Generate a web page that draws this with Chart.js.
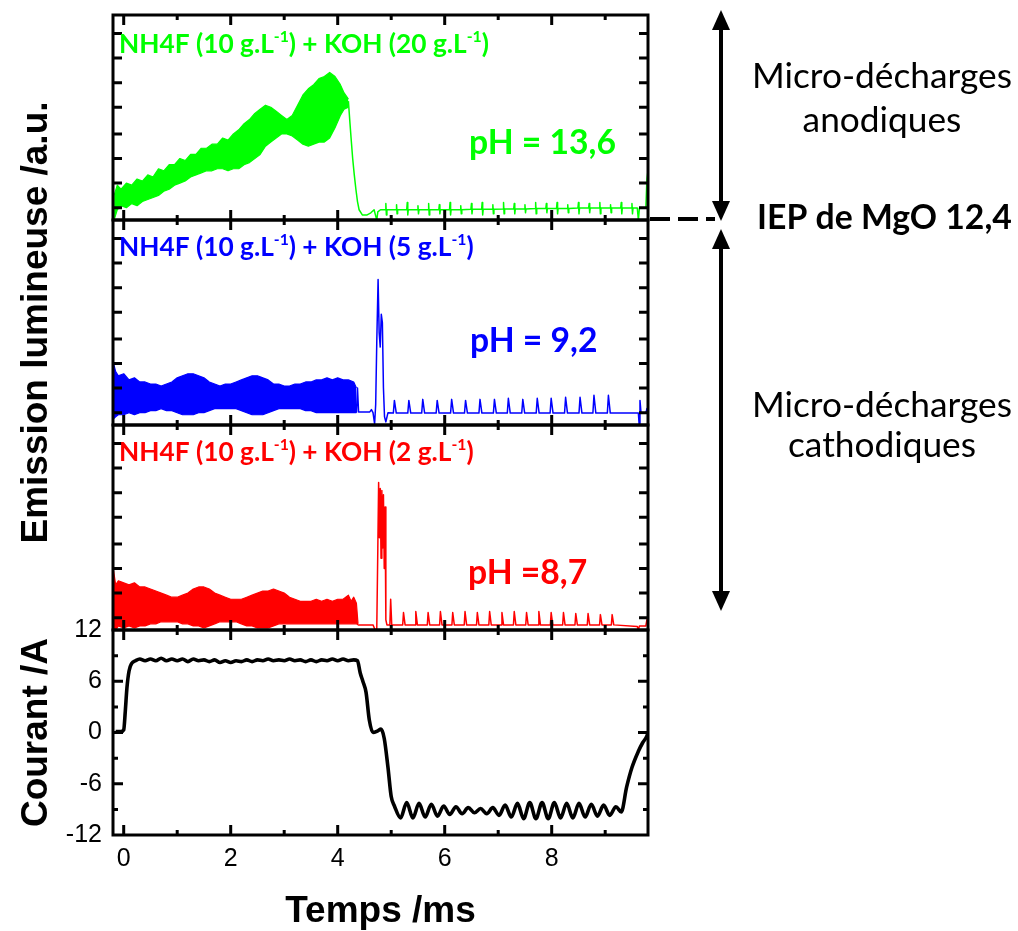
<!DOCTYPE html>
<html>
<head>
<meta charset="utf-8">
<script src="https://cdn.jsdelivr.net/npm/chart.js@4.4.1/dist/chart.umd.min.js"></script>
<style>
  html, body { margin: 0; padding: 0; background: #fff; }
  #plasma_chart { display: block; }
</style>
</head>
<body>
<canvas id="plasma_chart" width="1018" height="931"></canvas>
<script>
// axis ticks
const xTickValues = [0, 2, 4, 6, 8];
const xMajorTicks = [0, 2, 4, 6, 8];
const xMinorTicks = [1, 3, 5, 7, 9];
const currentTickValues = [-12, -6, 0, 6, 12];
const currentMajorTicks = [-6, 0, 6];
const currentMinorTicks = [-9, -3, 3, 9];
const emissionTicks = [6, 18, 30, 42, 55, 67, 79, 91];

// emission, pH 13.6 (green) : dense band as upper / lower envelope, then the tail
const greenBandT = [-0.18, -0.12, -0.05,
  0.05, 0.15, 0.25, 0.35, 0.45, 0.55, 0.65, 0.75, 0.85, 0.95,
  1.05, 1.15, 1.25, 1.35, 1.45, 1.55, 1.65, 1.75, 1.85, 1.95,
  2.05, 2.15, 2.25, 2.35, 2.45, 2.55, 2.65, 2.75, 2.85, 2.95,
  3.05, 3.15, 3.25, 3.35, 3.45, 3.55, 3.65, 3.75, 3.85, 3.95,
  4.05, 4.12, 4.2];
const greenBandHi = [12, 17, 15,
  18, 17, 20, 19, 22, 21, 25, 24, 27, 27,
  30, 29, 32, 32, 35, 35, 37, 37, 40, 39,
  42, 44, 47, 49, 52, 54, 56, 55, 53, 51,
  49, 51, 56, 61, 64, 66, 69, 70, 72, 70,
  66, 62, 59];
const greenBandLo = [0, 5, 7,
  6, 8, 7, 9, 10, 11, 12, 14, 15, 17,
  18, 19, 21, 22, 23, 24, 24, 25, 25, 24,
  25, 25, 27, 28, 30, 32, 36, 38, 40, 42,
  42, 41, 39, 37, 36, 37, 38, 38, 40, 45,
  51, 54, 55];
const greenTailT = [4.2, 4.23, 4.25, 4.28, 4.31, 4.34, 4.37, 4.4, 4.46, 4.55, 4.62, 4.68, 4.71, 4.73, 4.75, 4.8,
  4.89, 4.9, 4.91, 4.92,
  5.09, 5.1, 5.11, 5.12,
  5.29, 5.3, 5.31, 5.32,
  5.49, 5.5, 5.51, 5.52,
  5.69, 5.7, 5.71, 5.72,
  5.89, 5.9, 5.91, 5.92,
  6.09, 6.1, 6.11, 6.12,
  6.29, 6.3, 6.31, 6.32,
  6.49, 6.5, 6.51, 6.52,
  6.69, 6.7, 6.71, 6.72,
  6.89, 6.9, 6.91, 6.92,
  7.09, 7.1, 7.11, 7.12,
  7.29, 7.3, 7.31, 7.32,
  7.49, 7.5, 7.51, 7.52,
  7.69, 7.7, 7.71, 7.72,
  7.89, 7.9, 7.91, 7.92,
  8.09, 8.1, 8.11, 8.12,
  8.29, 8.3, 8.31, 8.32,
  8.49, 8.5, 8.51, 8.52,
  8.69, 8.7, 8.71, 8.72,
  8.89, 8.9, 8.91, 8.92,
  9.09, 9.1, 9.11, 9.12,
  9.29, 9.3, 9.31, 9.32,
  9.49, 9.5, 9.51, 9.52,
  9.6, 9.62, 9.64, 9.7, 9.76, 9.78, 9.8];
const greenTailY = [58, 47, 40, 30, 22, 15, 9, 5, 2.5, 2.5, 3.5, 5, 2, 0, 4, 5,
  5, 8, 2.5, 5,
  5, 7.5, 3, 5,
  5, 8.5, 2.5, 5,
  5, 7, 3, 5,
  5, 8, 2.5, 5,
  5, 7.5, 3, 5,
  5, 8.5, 2.5, 5,
  5, 7, 3, 5,
  5.2, 8, 3, 5.2,
  5.2, 8.5, 2.5, 5.2,
  5.2, 7.5, 3, 5.2,
  5.4, 8.5, 3, 5.4,
  5.4, 8, 3, 5.4,
  5.4, 7.5, 3.5, 5.4,
  5.6, 8.5, 3, 5.6,
  5.6, 8, 3.5, 5.6,
  5.6, 8.5, 3, 5.6,
  5.6, 7.5, 3.5, 5.6,
  5.8, 8.5, 3, 5.8,
  5.8, 8, 3.5, 5.8,
  5.8, 8.5, 3, 5.8,
  5.8, 7.5, 3.5, 5.8,
  5.8, 8.5, 3, 5.8,
  5.8, 8, 3, 5.8,
  5.8, 0, 5.8, 5.8, 5.8, 20, 24];

// emission, pH 9.2 (blue)
const blueBandT = [-0.19, -0.15, -0.1,
  0, 0.1, 0.2, 0.3, 0.4, 0.5, 0.6, 0.7, 0.8, 0.9,
  1.0, 1.1, 1.2, 1.3, 1.4, 1.5, 1.6, 1.7, 1.8, 1.9,
  2.0, 2.1, 2.2, 2.3, 2.4, 2.5, 2.6, 2.7, 2.8, 2.9,
  3.0, 3.1, 3.2, 3.3, 3.4, 3.5, 3.6, 3.7, 3.8, 3.9,
  4.0, 4.1, 4.2, 4.3, 4.35];
const blueBandHi = [30, 26, 24,
  25, 22, 23, 21, 21, 20, 20, 19, 20, 21,
  23, 24, 25, 25, 24, 23, 21, 20, 19, 20,
  20, 21, 22, 23, 24, 24, 23, 22, 20, 20,
  19, 19, 20, 20, 21, 21, 22, 22, 23, 22,
  23, 22, 22, 21, 18];
const blueBandLo = [3, 4, 5,
  5, 6, 5, 6, 6, 7, 7, 8, 7, 7,
  6, 5, 5, 5, 6, 6, 7, 8, 8, 8,
  8, 8, 7, 6, 5, 5, 5, 6, 7, 8,
  8, 8, 8, 8, 7, 7, 6, 6, 6, 6,
  6, 6, 6, 6, 6];
const blueTailT = [4.35, 4.37, 4.39, 4.6, 4.63, 4.66, 4.69, 4.71, 4.73, 4.755, 4.775, 4.795, 4.815, 4.835, 4.855, 4.875, 4.9, 4.94,
  5.04, 5.06, 5.095,
  5.31, 5.33, 5.365,
  5.57, 5.59, 5.625,
  5.84, 5.86, 5.895,
  6.11, 6.13, 6.165,
  6.37, 6.39, 6.425,
  6.64, 6.66, 6.695,
  6.91, 6.93, 6.965,
  7.17, 7.19, 7.225,
  7.44, 7.46, 7.495,
  7.71, 7.73, 7.765,
  7.97, 7.99, 8.025,
  8.24, 8.26, 8.295,
  8.51, 8.53, 8.565,
  8.77, 8.79, 8.825,
  9.04, 9.06, 9.095,
  9.62, 9.635, 9.65, 9.67, 9.76, 9.78, 9.8];
const blueTailY = [6, 18, 6.4, 6.4, 7.5, 6, 0.5, 10, 40, 71, 45, 38, 54, 50, 18, 4, 1.5, 6,
  5.8, 12, 5.8,
  5.8, 12, 5.8,
  5.8, 12.5, 5.8,
  5.8, 12, 5.8,
  5.8, 12.5, 5.8,
  5.8, 12, 5.8,
  5.8, 12.5, 5.8,
  5.8, 12.5, 5.8,
  5.8, 13, 5.8,
  5.8, 12.5, 5.8,
  5.8, 13, 5.8,
  5.8, 13, 5.8,
  5.8, 13.5, 5.8,
  5.8, 13.5, 5.8,
  5.8, 14.5, 5.8,
  5.8, 14.5, 5.8,
  5.8, 0, 12, 5.8, 5.8, 8, 7];

// emission, pH 8.7 (red)
const redBandT = [-0.19, -0.15, -0.1,
  0, 0.1, 0.2, 0.3, 0.4, 0.5, 0.6, 0.7, 0.8, 0.9,
  1.0, 1.1, 1.2, 1.3, 1.4, 1.5, 1.6, 1.7, 1.8, 1.9,
  2.0, 2.1, 2.2, 2.3, 2.4, 2.5, 2.6, 2.7, 2.8, 2.9,
  3.0, 3.1, 3.2, 3.3, 3.4, 3.5, 3.6, 3.7, 3.8, 3.9,
  4.0, 4.1, 4.2, 4.25, 4.3, 4.35, 4.38];
const redBandHi = [29, 22, 24,
  23, 22, 23, 21, 21, 20, 19, 18, 17, 16,
  16, 17, 18, 20, 21, 21, 20, 18, 17, 16,
  15, 15, 15, 16, 17, 18, 19, 19, 20, 19,
  18, 16, 15, 14, 14, 14, 15, 14, 15, 14,
  15, 15, 17, 14, 16, 13, 3];
const redBandLo = [1, 0, 2,
  1, 2, 1, 2, 2, 3, 3, 4, 4, 4,
  4, 3, 3, 2, 2, 1, 2, 3, 4, 4,
  4, 4, 3, 2, 2, 1, 1, 1, 2, 3,
  3, 3, 3, 3, 3, 3, 3, 3, 3, 3,
  3, 3, 3, 3, 3, 3, 2.5];
const redTailT = [4.38, 4.66, 4.7, 4.73, 4.75, 4.765, 4.78, 4.795, 4.81, 4.825, 4.84, 4.855, 4.87, 4.885, 4.9, 4.92, 4.975, 4.99, 5.01,
  5.215, 5.23, 5.26,
  5.445, 5.46, 5.49,
  5.675, 5.69, 5.72,
  5.905, 5.92, 5.95,
  6.135, 6.15, 6.18,
  6.365, 6.38, 6.41,
  6.595, 6.61, 6.64,
  6.825, 6.84, 6.87,
  7.055, 7.07, 7.1,
  7.285, 7.3, 7.33,
  7.515, 7.53, 7.56,
  7.745, 7.76, 7.79,
  7.975, 7.99, 8.02,
  8.205, 8.22, 8.25,
  8.435, 8.45, 8.48,
  8.665, 8.68, 8.71,
  8.895, 8.91, 8.94,
  9.115, 9.13, 9.16,
  9.6, 9.62, 9.64, 9.76, 9.78, 9.8];
const redTailY = [2.5, 2.5, 0, 0, 40, 72, 45, 69, 35, 68, 40, 66, 30, 60, 5, 2.5, 2.5, 15, 2.5,
  2.5, 8.5, 2.5,
  2.5, 9, 2.5,
  2.5, 8.5, 2.5,
  2.5, 9, 2.5,
  2.5, 8.5, 2.5,
  2.5, 9, 2.5,
  2.5, 8.5, 2.5,
  2.5, 9, 2.5,
  2.5, 8.5, 2.5,
  2.5, 9, 2.5,
  2.5, 8.5, 2.5,
  2.5, 9, 2.5,
  2.5, 8.5, 2.5,
  2.5, 8.5, 2.5,
  2.5, 8, 2.5,
  2.5, 8, 2.5,
  2.5, 7.5, 2.5,
  2.5, 7.5, 2.5,
  1.7, 0, 2, 2, 5, 4];

// current (A)
const currentT = [-0.15, -0.05, 0.0, 0.03, 0.06, 0.1, 0.15, 0.22,
  0.3, 0.4, 0.5, 0.6, 0.7, 0.8, 0.9,
  1.0, 1.1, 1.2, 1.3, 1.4, 1.5, 1.6, 1.7, 1.8, 1.9,
  2.0, 2.1, 2.2, 2.3, 2.4, 2.5, 2.6, 2.7, 2.8, 2.9,
  3.0, 3.1, 3.2, 3.3, 3.4, 3.5, 3.6, 3.7, 3.8, 3.9,
  4.0, 4.1, 4.2, 4.3, 4.37,
  4.42, 4.47, 4.53, 4.59, 4.66, 4.75, 4.81, 4.87, 4.94, 5.0,
  5.06, 5.175, 5.29, 5.405, 5.52, 5.635, 5.75, 5.865, 5.98, 6.095,
  6.21, 6.325, 6.44, 6.555, 6.67, 6.785, 6.9, 7.015, 7.13, 7.245,
  7.36, 7.475, 7.59, 7.705, 7.82, 7.935, 8.05, 8.165, 8.28, 8.395,
  8.51, 8.625, 8.74, 8.855, 8.97, 9.085, 9.2, 9.3,
  9.4, 9.5, 9.62, 9.7, 9.78, 9.8];
const currentA = [0.1, 0.1, 0.3, 2.5, 5.2, 7.2, 8.1, 8.4,
  8.6, 8.4, 8.6, 8.4, 8.7, 8.4, 8.6,
  8.4, 8.6, 8.3, 8.6, 8.4, 8.5, 8.3, 8.5, 8.2, 8.4,
  8.2, 8.4, 8.3, 8.5, 8.3, 8.5, 8.4, 8.6, 8.4, 8.5,
  8.4, 8.6, 8.4, 8.5, 8.3, 8.5, 8.3, 8.5, 8.4, 8.6,
  8.4, 8.6, 8.4, 8.5, 8.4,
  7.0, 6.0, 4.7, 1.5, 0.0, 0.2, 0.4, -0.7, -4.1, -7.5,
  -8.6, -10.0, -8.2, -10.0, -8.3, -9.9, -8.4, -9.8, -8.6, -9.6,
  -8.7, -9.5, -8.8, -9.4, -8.9, -9.5, -8.8, -9.7, -8.5, -9.9,
  -8.3, -10.1, -8.2, -10.1, -8.2, -10.1, -8.2, -10.0, -8.3, -10.0,
  -8.3, -9.9, -8.4, -9.8, -8.5, -9.7, -8.7, -9.3,
  -6.4, -4.1, -2.2, -1.2, -0.4, 0.0];

const GREEN = '#00ff00';
const BLUE = '#0000ff';
const RED = '#ff0000';
const TEXT_FONT = "Lato, 'Open Sans', sans-serif";
const AXIS_FONT = "'Liberation Sans', Arial, sans-serif";

const greenLabel = [{ text: 'NH4F (10 g.L' }, { text: '-1', sup: true }, { text: ') + KOH (20 g.L' }, { text: '-1', sup: true }, { text: ')' }];
const blueLabel = [{ text: 'NH4F (10 g.L' }, { text: '-1', sup: true }, { text: ') + KOH (5 g.L' }, { text: '-1', sup: true }, { text: ')' }];
const redLabel = [{ text: 'NH4F (10 g.L' }, { text: '-1', sup: true }, { text: ') + KOH (2 g.L' }, { text: '-1', sup: true }, { text: ')' }];

const toPoints = (xs, ys) => xs.map((x, i) => ({ x, y: ys[i] }));

const trace = (xs, ys, axis, color, extra = {}) => Object.assign({
  data: toPoints(xs, ys),
  yAxisID: axis,
  borderColor: color,
  backgroundColor: color,
  borderWidth: 1.5,
  pointRadius: 0,
  tension: 0,
  fill: false,
  borderJoinStyle: 'round',
}, extra);

// stacked panels: no extra chart padding from the tick labels
const fixLeftAxis = (scale) => {
  scale.width = 113;
  scale.paddingTop = 0;
  scale.paddingBottom = 0;
};

const emissionAxis = (title) => ({
  type: 'linear',
  position: 'left',
  stack: 'panels',
  stackWeight: 1,
  min: 0,
  max: 100,
  grid: { display: false, drawTicks: false },
  border: { display: false },
  ticks: { display: false },
  afterBuildTicks: (scale) => { scale.ticks = emissionTicks.map((v) => ({ value: v })); },
  afterFit: fixLeftAxis,
  title: title ? {
    display: true,
    text: title,
    color: '#000',
    font: { family: AXIS_FONT, size: 37, weight: 'bold', lineHeight: 1 },
    padding: { top: 18, bottom: 0 },
  } : { display: false },
});

function richWidth(ctx, parts, size, weight) {
  return parts.reduce((w, p) => {
    ctx.font = `${weight} ${p.sup ? size * 0.6 : size}px ${TEXT_FONT}`;
    return w + ctx.measureText(p.text).width;
  }, 0);
}

function drawRich(ctx, parts, x, y, size, weight, color) {
  ctx.fillStyle = color;
  ctx.textAlign = 'left';
  ctx.textBaseline = 'middle';
  let cx = x;
  parts.forEach((p) => {
    ctx.font = `${weight} ${p.sup ? size * 0.6 : size}px ${TEXT_FONT}`;
    ctx.fillText(p.text, cx, p.sup ? y - size * 0.3 : y);
    cx += ctx.measureText(p.text).width;
  });
}

const fitSize = (ctx, parts, width, weight) => 40 * width / richWidth(ctx, parts, 40, weight);

function arrow(ctx, x, y1, y2) {
  const head = 20, half = 9;
  ctx.beginPath();
  ctx.moveTo(x, y1 + head - 2);
  ctx.lineTo(x, y2 - head + 2);
  ctx.stroke();
  ctx.beginPath();
  ctx.moveTo(x, y1); ctx.lineTo(x - half, y1 + head); ctx.lineTo(x + half, y1 + head);
  ctx.closePath(); ctx.fill();
  ctx.beginPath();
  ctx.moveTo(x, y2); ctx.lineTo(x - half, y2 - head); ctx.lineTo(x + half, y2 - head);
  ctx.closePath(); ctx.fill();
}

const figureDecor = {
  id: 'figureDecor',
  afterDraw(chart) {
    const { ctx, chartArea: area, scales } = chart;
    const xs = scales.x;
    ctx.save();
    ctx.strokeStyle = '#000';
    ctx.fillStyle = '#000';

    // frames with inward ticks on all four sides of every panel
    ['yG', 'yB', 'yR', 'yI'].forEach((id) => {
      const s = scales[id];
      const yMarks = id === 'yI'
        ? currentMajorTicks.map((v) => [v, 10]).concat(currentMinorTicks.map((v) => [v, 5]))
        : emissionTicks.map((v) => [v, 9]);
      const xMarks = xMajorTicks.map((v) => [v, 10]).concat(xMinorTicks.map((v) => [v, 5]));
      ctx.lineWidth = 3;
      ctx.beginPath();
      yMarks.forEach(([v, len]) => {
        const py = s.getPixelForValue(v);
        ctx.moveTo(area.left, py); ctx.lineTo(area.left + len, py);
        ctx.moveTo(area.right, py); ctx.lineTo(area.right - len, py);
      });
      xMarks.forEach(([v, len]) => {
        const px = xs.getPixelForValue(v);
        ctx.moveTo(px, s.top); ctx.lineTo(px, s.top + len);
        ctx.moveTo(px, s.bottom); ctx.lineTo(px, s.bottom - len);
      });
      ctx.stroke();
      ctx.strokeRect(area.left, s.top, area.right - area.left, s.bottom - s.top);
    });

    // panel captions
    const labelSize = fitSize(ctx, greenLabel, 370, 'bold');
    drawRich(ctx, greenLabel, area.left + 6, scales.yG.top + 30, labelSize, 'bold', GREEN);
    drawRich(ctx, blueLabel, area.left + 6, scales.yB.top + 28, labelSize, 'bold', BLUE);
    drawRich(ctx, redLabel, area.left + 6, scales.yR.top + 28, labelSize, 'bold', RED);

    const phSize = fitSize(ctx, [{ text: 'pH = 13,6' }], 147, 'bold');
    drawRich(ctx, [{ text: 'pH = 13,6' }], area.left + 356, scales.yG.top + 128, phSize, 'bold', GREEN);
    drawRich(ctx, [{ text: 'pH = 9,2' }], area.left + 357, scales.yB.top + 121, phSize, 'bold', BLUE);
    drawRich(ctx, [{ text: 'pH =8,7' }], area.left + 355, scales.yR.top + 148, phSize, 'bold', RED);

    // right-hand annotations
    const iep = scales.yG.bottom;
    ctx.strokeStyle = '#000';
    ctx.fillStyle = '#000';
    ctx.lineWidth = 4;
    ctx.setLineDash([20, 8]);
    ctx.beginPath();
    ctx.moveTo(area.right + 2, iep - 1);
    ctx.lineTo(area.right + 67, iep - 1);
    ctx.stroke();
    ctx.setLineDash([]);

    const ax = area.right + 73;
    arrow(ctx, ax, scales.yG.top - 5, iep + 1);
    arrow(ctx, ax, scales.yB.top + 9, scales.yR.bottom - 19);

    const cx = area.right + 234;
    const noteSize = fitSize(ctx, [{ text: 'Micro-décharges' }], 260, 'normal');
    ctx.fillStyle = '#000';
    ctx.textAlign = 'center';
    ctx.textBaseline = 'middle';
    ctx.font = `normal ${noteSize}px ${TEXT_FONT}`;
    ctx.fillText('Micro-décharges', cx, scales.yG.top + 62);
    ctx.fillText('anodiques', cx, scales.yG.top + 106);
    ctx.fillText('Micro-décharges', cx, scales.yB.bottom - 19);
    ctx.fillText('cathodiques', cx, scales.yR.top + 21);

    const iepSize = fitSize(ctx, [{ text: 'IEP de MgO 12,4' }], 255, 'bold');
    drawRich(ctx, [{ text: 'IEP de MgO 12,4' }], area.right + 109, iep - 2, iepSize, 'bold', '#000');
    ctx.restore();
  },
};

const chartContext = document.getElementById('plasma_chart').getContext('2d');
const chart = new Chart(chartContext, {
  type: 'line',
  data: {
    datasets: [
      trace(greenBandT, greenBandHi, 'yG', GREEN, { fill: '+1', borderWidth: 1.2 }),
      trace(greenBandT, greenBandLo, 'yG', GREEN, { borderWidth: 1.2 }),
      trace(greenTailT, greenTailY, 'yG', GREEN),
      trace(blueBandT, blueBandHi, 'yB', BLUE, { fill: '+1', borderWidth: 1.2 }),
      trace(blueBandT, blueBandLo, 'yB', BLUE, { borderWidth: 1.2 }),
      trace(blueTailT, blueTailY, 'yB', BLUE),
      trace(redBandT, redBandHi, 'yR', RED, { fill: '+1', borderWidth: 1.2 }),
      trace(redBandT, redBandLo, 'yR', RED, { borderWidth: 1.2 }),
      trace(redTailT, redTailY, 'yR', RED),
      trace(currentT, currentA, 'yI', '#000', { borderWidth: 3.6, cubicInterpolationMode: 'monotone' }),
    ],
  },
  options: {
    responsive: false,
    devicePixelRatio: 1,
    animation: false,
    layout: { padding: { top: 15, right: 370, bottom: 0, left: 0 } },
    plugins: {
      legend: { display: false },
      tooltip: { enabled: false },
    },
    scales: {
      x: {
        type: 'linear',
        min: -0.2,
        max: 9.8,
        grid: { display: false, drawTicks: false },
        border: { display: false },
        afterBuildTicks: (scale) => { scale.ticks = xTickValues.map((v) => ({ value: v })); },
        afterFit: (scale) => {
          scale.height = 96;
          scale.paddingLeft = 0;
          scale.paddingRight = 0;
        },
        ticks: { color: '#000', padding: 9, autoSkip: false, maxRotation: 0, font: { family: AXIS_FONT, size: 25 } },
        title: {
          display: true,
          text: 'Temps /ms',
          color: '#000',
          font: { family: AXIS_FONT, size: 37, weight: 'bold', lineHeight: 1 },
          padding: { top: 0, bottom: 1 },
        },
      },
      yI: {
        type: 'linear',
        position: 'left',
        stack: 'panels',
        stackWeight: 1,
        min: -12,
        max: 12,
        grid: { display: false, drawTicks: false },
        border: { display: false },
        afterBuildTicks: (scale) => { scale.ticks = currentTickValues.map((v) => ({ value: v })); },
        afterFit: fixLeftAxis,
        ticks: { color: '#000', padding: 11, autoSkip: false, font: { family: AXIS_FONT, size: 25 } },
        title: {
          display: true,
          text: 'Courant /A',
          color: '#000',
          font: { family: AXIS_FONT, size: 37, weight: 'bold', lineHeight: 1 },
          padding: { top: 18, bottom: 0 },
        },
      },
      yR: emissionAxis(null),
      yB: emissionAxis('Emission lumineuse /a.u.'),
      yG: emissionAxis(null),
    },
  },
  plugins: [figureDecor],
});
</script>
</body>
</html>
